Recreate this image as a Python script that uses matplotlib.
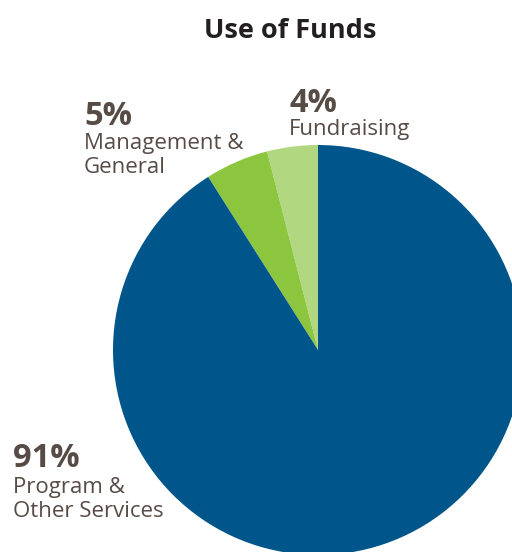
import matplotlib.pyplot as plt

# data, in pie order starting at 12 o'clock going counter-clockwise
labels = ['Fundraising', 'Management &\nGeneral', 'Program &\nOther Services']
shares = [4, 5, 91]
colors = ['#b1d880', '#8cc63f', '#00558b']

W, H = 512, 552
text_col = '#574b45'
plt.rcParams['font.family'] = ['Open Sans', 'DejaVu Sans']

fig = plt.figure(figsize=(W / 100, H / 100), dpi=100)
ax = fig.add_axes([0, 0, 1, 1])

# pie is cropped at right and bottom in the reference
ax.pie(shares, colors=colors, startangle=90, counterclock=True,
       center=(318, H - 350), radius=205, frame=True,
       wedgeprops=dict(linewidth=0))
ax.set_xlim(0, W)
ax.set_ylim(0, H)
ax.set_aspect('equal')
ax.axis('off')

ax.text(290, H - 38, 'Use of Funds', ha='center', va='baseline',
        fontsize=19.5, fontweight='bold', color='#231f20')

# (x, baseline of the % line, baseline of first label line) in pixels from top
label_pos = [(289, 112, 135), (84, 125, 149), (13, 467, 493)]
for (x, yp, yl), lab, s in zip(label_pos, labels, shares):
    ax.text(x, H - yp, f'{s}%', ha='left', va='baseline',
            fontsize=23.5, fontweight='bold', color=text_col)
    for i, line in enumerate(lab.split('\n')):
        ax.text(x, H - yl - i * 24, line, ha='left', va='baseline',
                fontsize=16, color=text_col)

fig.savefig('out.png', dpi=100)
